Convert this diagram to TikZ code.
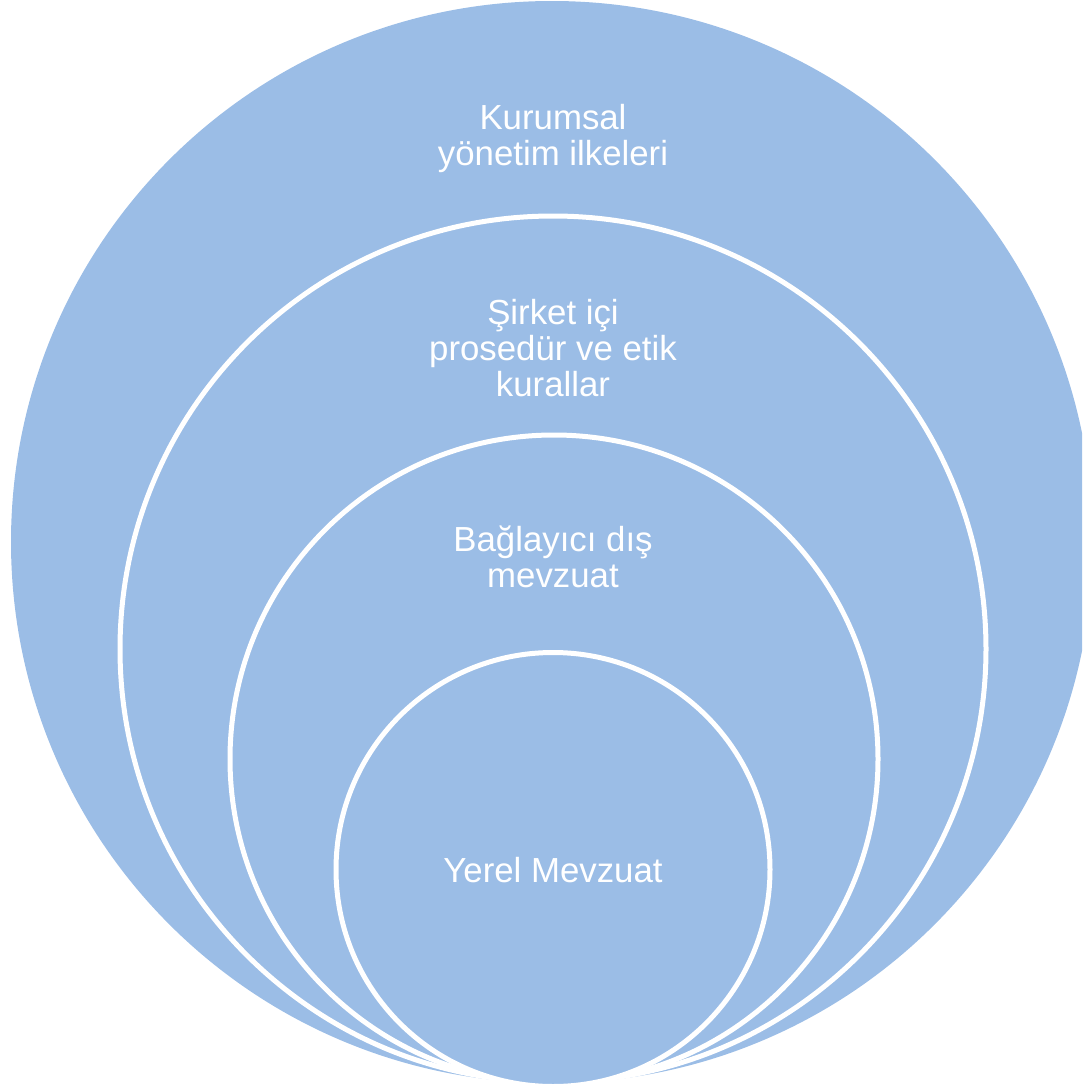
\documentclass[tikz,border=0pt]{standalone}
\usepackage{fontspec}
\setmainfont{Liberation Sans}
\usetikzlibrary{positioning}
\definecolor{ringblue}{RGB}{155,189,230}
\tikzset{
  ring/.style={fill=ringblue, draw=white, line width=5pt},
  label/.style={text=white, align=center, font=\fontsize{34.8}{36}\selectfont}
}

\begin{document}
\begin{tikzpicture}[x=1pt,y=-1pt]
  \useasboundingbox (0,0) rectangle (1082,1084);
  \clip (0,0) rectangle (1082,1084);
  \fill[ringblue] (552,542) circle[radius=541];
  \draw[ring] (553,649) circle[radius=433];
  \draw[ring] (554,759) circle[radius=324];
  \draw[ring] (553,869.5) circle[radius=217];
  \node[label] (kurumsal) at (553,139) {Kurumsal\\yönetim ilkeleri};
  \node[label] (sirket) at (553,348) {Şirket içi\\prosedür ve etik\\kurallar};
  \node[label] (baglayici) at (553,557) {Bağlayıcı dış\\mevzuat};
  \node[label] (yerel) at (553,870) {Yerel Mevzuat};
\end{tikzpicture}
\end{document}
